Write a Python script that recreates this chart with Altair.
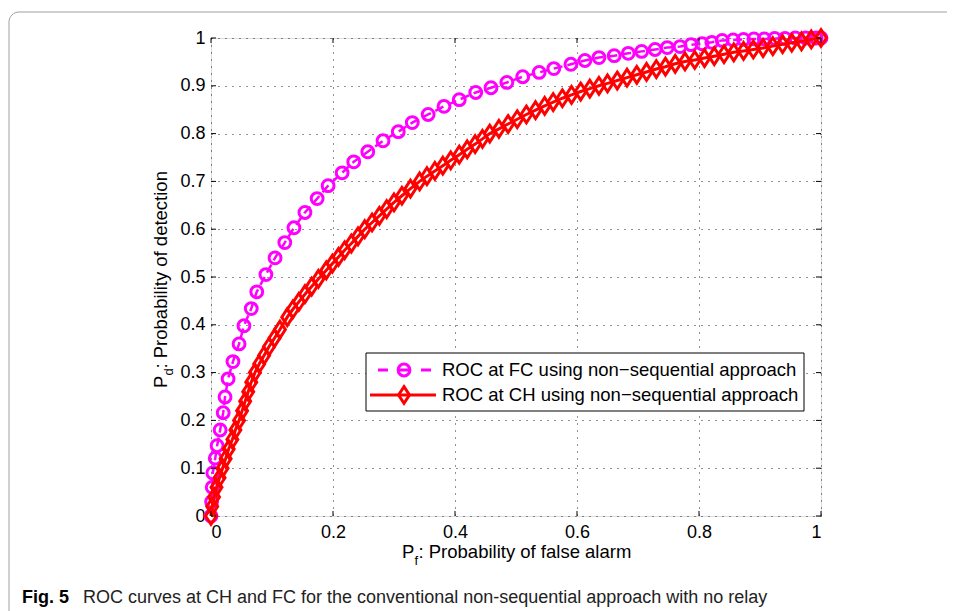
import altair as alt
import pandas as pd

# ---- data ----
fc_pf = [0.0, 0.001, 0.002, 0.003, 0.007, 0.010, 0.015, 0.020, 0.023, 0.028, 0.036, 0.046,
         0.054, 0.066, 0.075, 0.090, 0.105, 0.121, 0.136, 0.154, 0.174, 0.192, 0.215, 0.234,
         0.257, 0.282, 0.307, 0.330, 0.356, 0.382, 0.407, 0.434, 0.459, 0.485, 0.511, 0.538,
         0.562, 0.590, 0.613, 0.636, 0.661, 0.684, 0.706, 0.728, 0.748, 0.769, 0.787, 0.805,
         0.821, 0.838, 0.856, 0.873, 0.890, 0.907, 0.924, 0.941, 0.958, 0.975, 0.992, 1.0]
fc_pd = [0.0, 0.030, 0.060, 0.090, 0.121, 0.147, 0.180, 0.216, 0.249, 0.287, 0.323, 0.360,
         0.398, 0.434, 0.469, 0.505, 0.540, 0.572, 0.603, 0.635, 0.664, 0.691, 0.718, 0.741,
         0.762, 0.785, 0.804, 0.823, 0.840, 0.857, 0.871, 0.886, 0.896, 0.907, 0.919, 0.928,
         0.936, 0.945, 0.953, 0.959, 0.963, 0.968, 0.972, 0.976, 0.980, 0.982, 0.986, 0.988,
         0.991, 0.995, 0.996, 0.997, 0.998, 0.998, 0.999, 0.999, 1.0, 1.0, 1.0, 1.0]

ch_pf = [0.0, 0.002, 0.005, 0.009, 0.014, 0.019, 0.024, 0.029, 0.035, 0.040, 0.046,
         0.051, 0.056, 0.061, 0.066, 0.072, 0.079, 0.087, 0.095, 0.104, 0.113,
         0.125, 0.134, 0.144, 0.154, 0.165, 0.176, 0.189, 0.199, 0.209, 0.219, 0.230,
         0.241, 0.252, 0.264, 0.276, 0.288, 0.300, 0.313, 0.327, 0.342, 0.354, 0.367,
         0.380, 0.393, 0.407, 0.420, 0.433, 0.445, 0.457, 0.472, 0.487, 0.502, 0.517,
         0.532, 0.547, 0.561, 0.576, 0.591, 0.606, 0.621, 0.636, 0.650, 0.666, 0.682,
         0.698, 0.714, 0.730, 0.745, 0.761, 0.777, 0.793, 0.809, 0.825, 0.841, 0.857,
         0.873, 0.889, 0.905, 0.921, 0.937, 0.952, 0.968, 0.984, 1.0]
ch_pd = [0.0, 0.02, 0.04, 0.06, 0.08, 0.10, 0.12, 0.14, 0.16, 0.18, 0.20,
         0.22, 0.24, 0.26, 0.28, 0.30, 0.318, 0.336, 0.354, 0.372, 0.39,
         0.416, 0.432, 0.448, 0.464, 0.48, 0.496, 0.514, 0.528, 0.542, 0.556, 0.570,
         0.585, 0.60, 0.614, 0.628, 0.642, 0.656, 0.670, 0.685, 0.70, 0.711, 0.722,
         0.733, 0.744, 0.756, 0.767, 0.778, 0.789, 0.80, 0.81, 0.82, 0.83, 0.84,
         0.849, 0.858, 0.866, 0.874, 0.881, 0.888, 0.894, 0.90, 0.905, 0.911, 0.917,
         0.923, 0.929, 0.935, 0.940, 0.946, 0.951, 0.954, 0.958, 0.962, 0.966, 0.970,
         0.973, 0.976, 0.979, 0.983, 0.987, 0.990, 0.993, 0.997, 1.0]

tick_vals_x = [0, 0.2, 0.4, 0.6, 0.8, 1]
tick_vals_y = [0, 0.1, 0.2, 0.3, 0.4, 0.5, 0.6, 0.7, 0.8, 0.9, 1]

legend_labels = ["ROC at FC using non\u2212sequential approach",
                 "ROC at CH using non\u2212sequential approach"]
x_title = ": Probability of false alarm"
y_title = " : Probability of detection"
caption_bold = "Fig. 5"
caption_text = "ROC curves at CH and FC for the conventional non-sequential approach with no relay"

W, H = 610, 478
FONT = "Liberation Sans"
MAG = "#FF00FF"
RED = "#FF0000"
DIAMOND = "M0,-1.3L0.85,0L0,1.3L-0.85,0Z"
CIRC_SIZE = 140
DIA_SIZE = 165

fc = pd.DataFrame({"pf": fc_pf, "pd": fc_pd})
ch = pd.DataFrame({"pf": ch_pf, "pd": ch_pd})
one = pd.DataFrame({"a": [0]})

xs = alt.Scale(domain=[0, 1], nice=False, zero=False)
ys = alt.Scale(domain=[0, 1], nice=False, zero=False)

lbl = "datum.value == 0 ? '0' : datum.value == 1 ? '1' : format(datum.value, '.1f')"
xax = alt.Axis(values=tick_vals_x, labelExpr=lbl,
               grid=True, gridDash=[1, 6], gridColor="#222", gridWidth=1, ticks=False, domain=False,
               labelFont=FONT, labelFontSize=18, labelColor="#000", labelPadding=7, title=None)
yax = alt.Axis(values=tick_vals_y, labelExpr=lbl,
               grid=True, gridDash=[1, 6], gridColor="#222", gridWidth=1, ticks=False, domain=False,
               labelFont=FONT, labelFontSize=18, labelColor="#000", labelPadding=6, title=None)

base_fc = alt.Chart(fc).encode(x=alt.X("pf:Q", scale=xs, axis=xax), y=alt.Y("pd:Q", scale=ys, axis=yax))
fc_line = base_fc.mark_line(color=MAG, strokeWidth=2.5, strokeDash=[9, 5], clip=False)
fc_pts = base_fc.mark_point(shape="circle", filled=False, size=CIRC_SIZE, strokeWidth=3, color=MAG, opacity=1, clip=False)

base_ch = alt.Chart(ch).encode(x=alt.X("pf:Q", scale=xs), y=alt.Y("pd:Q", scale=ys))
ch_line = base_ch.mark_line(color=RED, strokeWidth=3, clip=False)
ch_pts = base_ch.mark_point(shape=DIAMOND, filled=False, size=DIA_SIZE, strokeWidth=3, color=RED, opacity=1, clip=False)

# inward ticks on all four sides
tx = pd.DataFrame({"v": tick_vals_x})
ty = pd.DataFrame({"v": tick_vals_y})
t_bottom = alt.Chart(tx).mark_rule(color="#000", strokeWidth=1).encode(
    x=alt.X("v:Q", scale=xs), y=alt.value(H), y2=alt.value(H - 5))
t_top = alt.Chart(tx).mark_rule(color="#000", strokeWidth=1).encode(
    x=alt.X("v:Q", scale=xs), y=alt.value(0), y2=alt.value(5))
t_left = alt.Chart(ty).mark_rule(color="#000", strokeWidth=1).encode(
    y=alt.Y("v:Q", scale=ys), x=alt.value(0), x2=alt.value(5))
t_right = alt.Chart(ty).mark_rule(color="#000", strokeWidth=1).encode(
    y=alt.Y("v:Q", scale=ys), x=alt.value(W), x2=alt.value(W - 5))

# legend box
lg_box = alt.Chart(one).mark_rect(fill="white", stroke="#000", strokeWidth=1).encode(
    x=alt.value(155), x2=alt.value(593), y=alt.value(315), y2=alt.value(373))
lg_d1 = alt.Chart(one).mark_rule(color=MAG, strokeWidth=3).encode(x=alt.value(167), x2=alt.value(177), y=alt.value(332))
lg_d2 = alt.Chart(one).mark_rule(color=MAG, strokeWidth=3).encode(x=alt.value(188), x2=alt.value(198), y=alt.value(332))
lg_d3 = alt.Chart(one).mark_rule(color=MAG, strokeWidth=3).encode(x=alt.value(210), x2=alt.value(220), y=alt.value(332))
lg_c = alt.Chart(one).mark_point(shape="circle", filled=False, size=CIRC_SIZE, strokeWidth=3, color=MAG, opacity=1).encode(
    x=alt.value(193), y=alt.value(332))
lg_r = alt.Chart(one).mark_rule(color=RED, strokeWidth=3).encode(x=alt.value(159), x2=alt.value(225), y=alt.value(357))
lg_dm = alt.Chart(one).mark_point(shape=DIAMOND, filled=False, size=DIA_SIZE, strokeWidth=3, color=RED, opacity=1).encode(
    x=alt.value(193), y=alt.value(357))
lg_t1 = alt.Chart(one).mark_text(text=legend_labels[0], font=FONT, fontSize=18.5, align="left", baseline="middle", color="#000").encode(
    x=alt.value(231), y=alt.value(332))
lg_t2 = alt.Chart(one).mark_text(text=legend_labels[1], font=FONT, fontSize=18.5, align="left", baseline="middle", color="#000").encode(
    x=alt.value(231), y=alt.value(357))

# axis titles with subscripts
xt_p = alt.Chart(one).mark_text(text="P", font=FONT, fontSize=18.5, align="left", baseline="alphabetic", color="#000").encode(
    x=alt.value(191), y=alt.value(520))
xt_s = alt.Chart(one).mark_text(text="f", font=FONT, fontSize=13, align="left", baseline="alphabetic", color="#000").encode(
    x=alt.value(203.5), y=alt.value(527))
xt_r = alt.Chart(one).mark_text(text=x_title, font=FONT, fontSize=18.5, align="left", baseline="alphabetic", color="#000").encode(
    x=alt.value(207.5), y=alt.value(520))

yt_p = alt.Chart(one).mark_text(text="P", font=FONT, fontSize=18.5, align="left", baseline="alphabetic", angle=270, color="#000").encode(
    x=alt.value(-44), y=alt.value(350))
yt_s = alt.Chart(one).mark_text(text="d", font=FONT, fontSize=13, align="left", baseline="alphabetic", angle=270, color="#000").encode(
    x=alt.value(-38), y=alt.value(337.5))
yt_r = alt.Chart(one).mark_text(text=y_title, font=FONT, fontSize=18.5, align="left", baseline="alphabetic", angle=270, color="#000").encode(
    x=alt.value(-44), y=alt.value(330.5))

# caption and frame
frame = alt.Chart(one).mark_rect(fill=None, stroke="#a0a0a0", strokeWidth=1, cornerRadius=10, clip=False).encode(
    x=alt.value(-202), x2=alt.value(900), y=alt.value(-26), y2=alt.value(700))
cap_b = alt.Chart(one).mark_text(text=caption_bold, font=FONT, fontSize=18, fontWeight="bold", align="left", baseline="alphabetic", color="#000").encode(
    x=alt.value(-189), y=alt.value(565))
cap_t = alt.Chart(one).mark_text(text=caption_text, font=FONT, fontSize=18, align="left", baseline="alphabetic", color="#222").encode(
    x=alt.value(-128), y=alt.value(565))

chart = alt.layer(
    frame, fc_line, fc_pts, ch_line, ch_pts,
    t_bottom, t_top, t_left, t_right,
    lg_box, lg_d1, lg_d2, lg_d3, lg_c, lg_r, lg_dm, lg_t1, lg_t2,
    xt_p, xt_s, xt_r, yt_p, yt_s, yt_r, cap_b, cap_t
).properties(
    width=W, height=H,
    autosize=alt.AutoSizeParams(type="none"),
    padding={"left": 203, "top": 30, "right": 126, "bottom": 95},
).configure_view(stroke="#000", strokeWidth=1).configure(background="white")

chart.save("out.html", embed_options={"renderer": "svg", "actions": False})
